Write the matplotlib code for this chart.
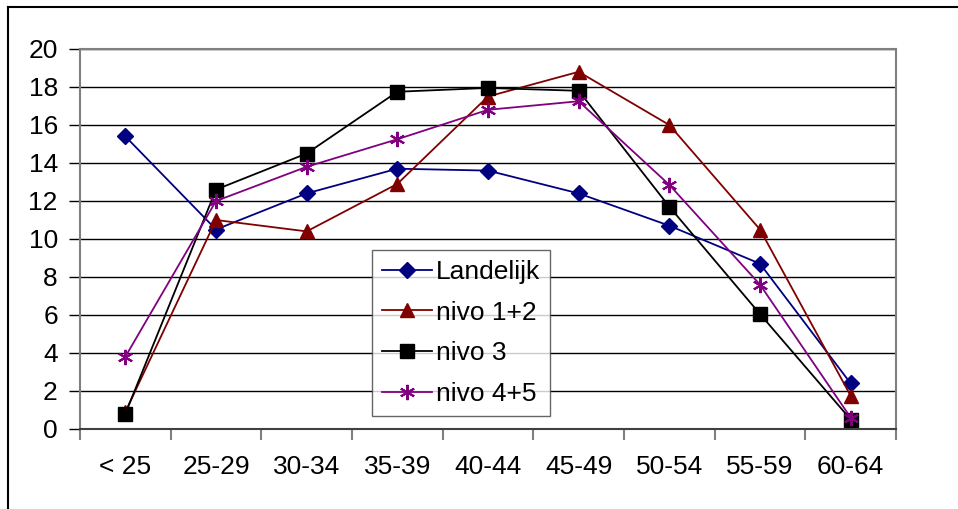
import matplotlib
matplotlib.use("Agg")
import matplotlib.pyplot as plt
from matplotlib.lines import Line2D

plt.rcParams['font.family'] = ['Liberation Sans', 'DejaVu Sans']

categories = ["< 25", "25-29", "30-34", "35-39", "40-44", "45-49", "50-54", "55-59", "60-64"]
landelijk = [15.4, 10.5, 12.4, 13.7, 13.6, 12.4, 10.7, 8.7, 2.4]
nivo_12 = [0.9, 11.0, 10.4, 12.9, 17.5, 18.8, 16.0, 10.5, 1.75]
nivo_3 = [0.8, 12.6, 14.5, 17.75, 17.95, 17.8, 11.7, 6.05, 0.5]
nivo_45 = [3.8, 12.0, 13.8, 15.25, 16.8, 17.25, 12.85, 7.6, 0.6]

W, H = 958, 509
fig = plt.figure(figsize=(W / 100, H / 100), dpi=100)
ax = fig.add_axes([80 / W, 1 - 429 / H, (896 - 80) / W, (429 - 49) / H])

x = list(range(len(categories)))
ax.plot(x, landelijk, color="#000080", marker="D", ms=8, lw=1.3, label="Landelijk")
ax.plot(x, nivo_12, color="#800000", marker="^", ms=10, lw=1.3, label="nivo 1+2")
ax.plot(x, nivo_3, color="#000000", marker="s", ms=10, lw=1.3, label="nivo 3")
ax.plot(x, nivo_45, color="#800080", marker=(6, 2, 0), ms=11, mew=1.5, lw=1.3, label="nivo 4+5")

ax.set_xlim(-0.5, len(categories) - 0.5)
ax.set_ylim(0, 20)
ax.set_yticks(range(0, 21, 2))
ax.yaxis.grid(True, color="black", lw=1)
ax.set_axisbelow(True)

# category labels centred, tick marks on the category boundaries
ax.set_xticks(x)
ax.set_xticklabels(categories, fontsize=19)
ax.tick_params(axis="x", which="major", length=0, pad=19)
ax.set_xticks([i - 0.5 for i in range(len(categories) + 1)], minor=True)
ax.tick_params(axis="x", which="minor", length=8, width=1.5, color="#808080", direction="out")
ax.tick_params(axis="y", length=8, width=1, color="black", labelsize=19, pad=8)

for side in ["top", "right", "left"]:
    ax.spines[side].set_color("#808080")
    ax.spines[side].set_linewidth(1.5)
ax.spines["bottom"].set_color("#404040")
ax.spines["bottom"].set_linewidth(1.5)

leg = ax.legend(loc="upper left", bbox_to_anchor=(372 / W, 1 - 250 / H),
                bbox_transform=fig.transFigure, fontsize=19, frameon=True,
                fancybox=False, edgecolor="#404040", handlelength=1.9,
                labelspacing=0.63, borderpad=0.38, handletextpad=0.15,
                borderaxespad=0)
leg.get_frame().set_linewidth(1)

# outer chart border (left and top edges)
fig.add_artist(Line2D([8 / W, 8 / W], [0, 1 - 7 / H], color="black", lw=1.5,
                      transform=fig.transFigure))
fig.add_artist(Line2D([8 / W, 1], [1 - 7 / H, 1 - 7 / H], color="black", lw=1.5,
                      transform=fig.transFigure))

fig.savefig("out.png", dpi=100)
